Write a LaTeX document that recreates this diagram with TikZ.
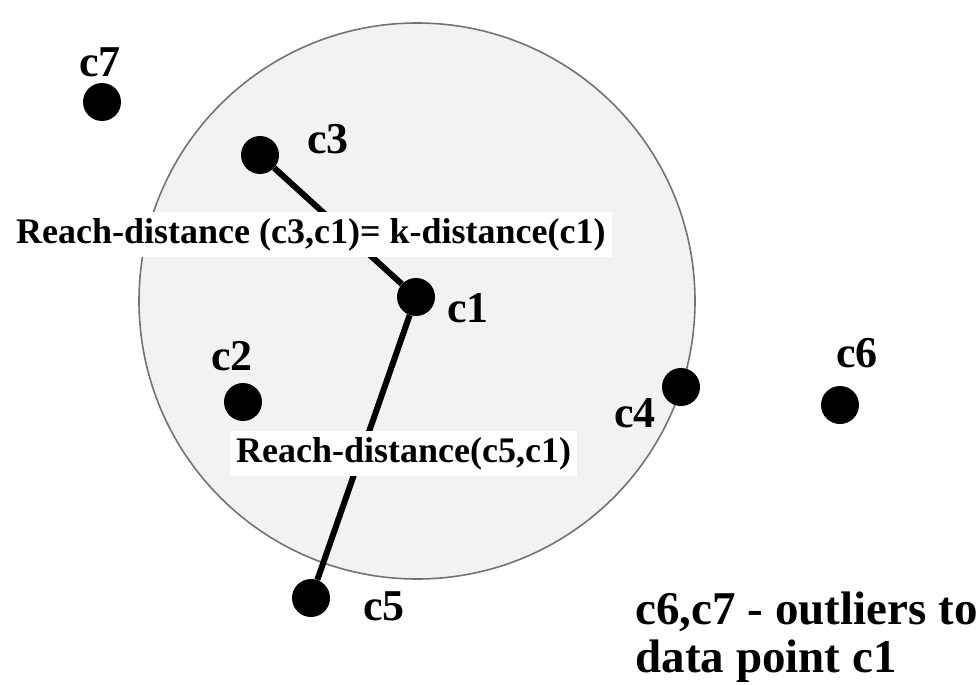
\documentclass[tikz,border=0pt]{standalone}
\usepackage{fontspec}
\setmainfont{Liberation Serif}

\begin{document}
\begin{tikzpicture}[x=1pt, y=-1pt,
        pt/.style={circle, fill=black, inner sep=0pt, minimum size=38pt},
        lbl/.style={font=\fontsize{44}{50}\selectfont\bfseries, anchor=base},
        note/.style={font=\fontsize{36}{40}\selectfont\bfseries, fill=white, anchor=base west, inner xsep=6pt, inner ysep=6pt},
        reach/.style={line width=6pt}]
        \useasboundingbox (0,0) rectangle (977,685);

        % Neighbourhood of c1
        \draw[black!55, line width=1.6pt, fill=black!5] (417,301) circle[radius=278pt];

        % Draw nodes
        \node[pt] (c1) at (416,297) {};
        \node[pt] (c2) at (243,402) {};
        \node[pt] (c3) at (260,155) {};
        \node[pt] (c4) at (681,387) {};
        \node[pt] (c5) at (311,598) {};
        \node[pt] (c6) at (840,405) {};
        \node[pt] (c7) at (102,102) {};

        % Draw connections
        \draw[reach] (c3) -- (c1);
        \draw[reach] (c1) -- (c5);

        % Labels
        \node[lbl] (l1) at (468,322) {c1};
        \node[lbl] (l2) at (232,370) {c2};
        \node[lbl] (l3) at (328,153) {c3};
        \node[lbl] (l4) at (635,427) {c4};
        \node[lbl] (l5) at (384,620) {c5};
        \node[lbl] (l6) at (857,367) {c6};
        \node[lbl] (l7) at (100,77) {c7};

        \node[note] (r31) at (10,243) {Reach-distance (c3,c1)= k-distance(c1)};
        \node[note] (r51) at (230,462) {Reach-distance(c5,c1)};

        \node[lbl, anchor=base west, font=\fontsize{47}{49}\selectfont\bfseries] (out1) at (632,624) {c6,c7 - outliers to};
        \node[lbl, anchor=base west, font=\fontsize{47}{49}\selectfont\bfseries] (out2) at (632,672) {data point c1};
    \end{tikzpicture}
\end{document}
